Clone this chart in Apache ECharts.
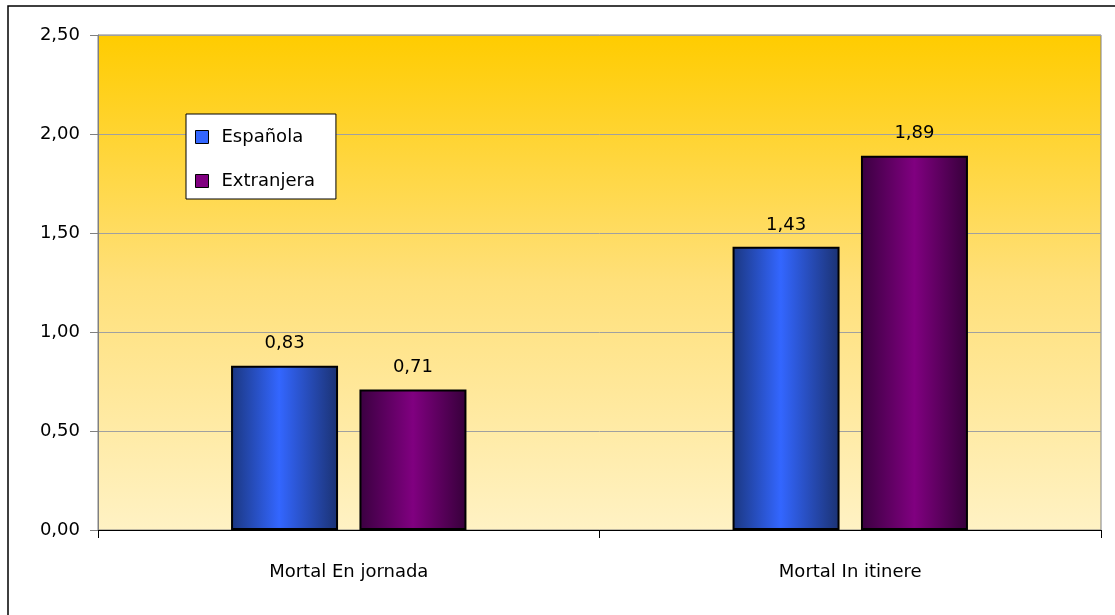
<!DOCTYPE html>
<html>
<head>
<meta charset="utf-8">
<script src="https://cdn.jsdelivr.net/npm/echarts@6/dist/echarts.min.js"></script>
<style>
  html, body { margin: 0; padding: 0; background: #fff; }
  #chart { width: 1115px; height: 615px; }
</style>
</head>
<body>
<div id="chart"></div>
<script>
var categories = ['Mortal En jornada', 'Mortal In itinere'];
var espanola = [0.83, 1.43];
var extranjera = [0.71, 1.89];
var yTicks = [0, 0.5, 1, 1.5, 2, 2.5];

var fontName = 'DejaVu Sans';
var chart = echarts.init(document.getElementById('chart'));

function fmt(v) {
  return v.toFixed(2).replace('.', ',');
}

var blueFill = new echarts.graphic.LinearGradient(0, 0, 1, 0, [
  { offset: 0, color: '#1b3780' },
  { offset: 0.45, color: '#3366ff' },
  { offset: 1, color: '#1b3272' }
]);
var purpleFill = new echarts.graphic.LinearGradient(0, 0, 1, 0, [
  { offset: 0, color: '#3a0040' },
  { offset: 0.5, color: '#800080' },
  { offset: 1, color: '#36003a' }
]);

var option = {
  animation: false,
  textStyle: { fontFamily: fontName },
  graphic: [{
    type: 'rect',
    shape: { x: 8, y: 6, width: 1120, height: 620 },
    style: { fill: 'none', stroke: '#000', lineWidth: 1.5 },
    z: 100
  }],
  grid: {
    left: 98, top: 35, right: 14, bottom: 85,
    show: true,
    borderColor: '#808080',
    borderWidth: 1,
    backgroundColor: new echarts.graphic.LinearGradient(0, 0, 0, 1, [
      { offset: 0, color: '#ffcc00' },
      { offset: 0.5, color: '#ffe07a' },
      { offset: 1, color: '#fff2c4' }
    ])
  },
  legend: {
    orient: 'vertical',
    left: 186, top: 114,
    padding: [14, 21, 9, 9],
    backgroundColor: '#fff',
    borderColor: '#000',
    borderWidth: 1,
    itemWidth: 13, itemHeight: 13,
    itemGap: 26,
    textStyle: { fontSize: 18, color: '#000', fontFamily: fontName, padding: [0, 0, 0, 8] },
    data: [
      { name: 'Española', icon: 'rect', itemStyle: { color: '#3366ff', borderColor: '#000', borderWidth: 1 } },
      { name: 'Extranjera', icon: 'rect', itemStyle: { color: '#800080', borderColor: '#000', borderWidth: 1 } }
    ]
  },
  xAxis: {
    type: 'category',
    data: categories,
    axisLine: { lineStyle: { color: '#000', width: 1 } },
    axisTick: { show: true, length: 8, lineStyle: { color: '#000' } },
    axisLabel: { margin: 33, fontSize: 18, color: '#000', fontFamily: fontName }
  },
  yAxis: {
    type: 'value',
    min: yTicks[0], max: yTicks[yTicks.length - 1], interval: 0.5,
    axisLine: { show: true, lineStyle: { color: '#808080' } },
    axisTick: { show: true, length: 8, lineStyle: { color: '#808080' } },
    splitLine: { lineStyle: { color: '#a0a0a0', width: 1 } },
    axisLabel: { margin: 18, fontSize: 18, color: '#000', fontFamily: fontName, formatter: fmt }
  },
  series: [
    {
      name: 'Española', type: 'bar', data: espanola,
      barWidth: 107, barGap: '20%',
      itemStyle: { color: blueFill, borderColor: '#000', borderWidth: 2 },
      label: { show: true, position: 'top', distance: 13, fontSize: 18, color: '#000', formatter: function (p) { return fmt(p.value); } }
    },
    {
      name: 'Extranjera', type: 'bar', data: extranjera,
      barWidth: 107,
      itemStyle: { color: purpleFill, borderColor: '#000', borderWidth: 2 },
      label: { show: true, position: 'top', distance: 13, fontSize: 18, color: '#000', formatter: function (p) { return fmt(p.value); } }
    }
  ]
};
chart.setOption(option);
</script>
</body>
</html>
